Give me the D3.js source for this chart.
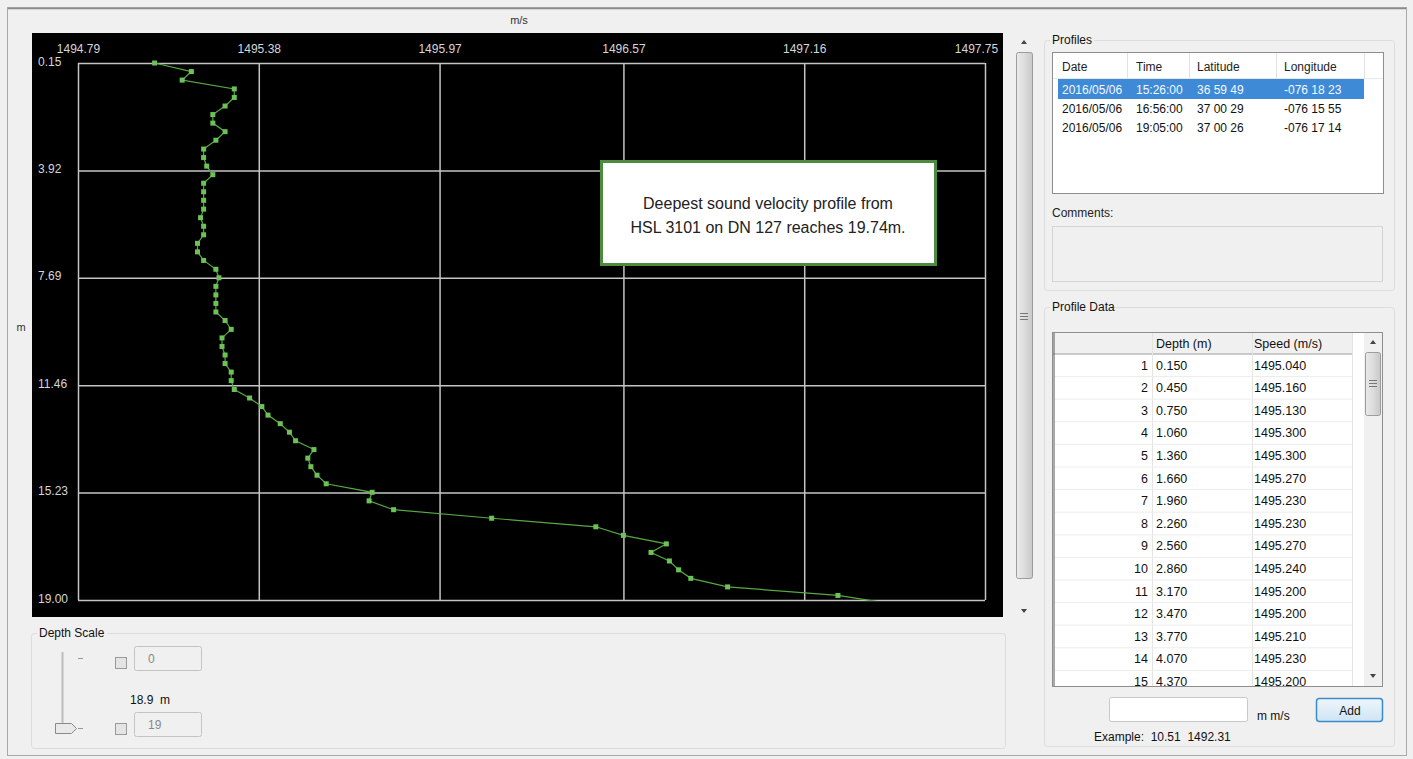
<!DOCTYPE html>
<html>
<head>
<meta charset="utf-8">
<script src="https://cdn.jsdelivr.net/npm/d3@7"></script>
<style>
  html, body { margin: 0; padding: 0; background: #f0f0f0; }
  svg { display: block; }
  text { font-family: "Liberation Sans", Arial, sans-serif; white-space: pre; }
</style>
</head>
<body>
<svg id="app" width="1413" height="759"></svg>
<script>
// ---- Sound velocity profile: depth (m) and speed (m/s) per sample ----
const depths = [
  0.15, 0.45, 0.75, 1.06, 1.36, 1.66, 1.96, 2.26, 2.56, 2.86,
  3.17, 3.47, 3.77, 4.07, 4.37, 4.67, 4.97, 5.28, 5.58, 5.88,
  6.18, 6.48, 6.78, 7.08, 7.39, 7.69, 7.99, 8.29, 8.59, 8.89,
  9.19, 9.50, 9.80, 10.10, 10.40, 10.70, 11.00, 11.30, 11.61, 11.91,
  12.21, 12.51, 12.81, 13.11, 13.41, 13.72, 14.02, 14.32, 14.62, 14.92,
  15.22, 15.52, 15.83, 16.13, 16.43, 16.73, 17.03, 17.33, 17.63, 17.94,
  18.24, 18.54, 18.84, 19.14
];
const speeds = [
  1495.04, 1495.16, 1495.13, 1495.30, 1495.30, 1495.27, 1495.23, 1495.23, 1495.27, 1495.24,
  1495.20, 1495.20, 1495.21, 1495.23, 1495.20, 1495.20, 1495.20, 1495.20, 1495.19, 1495.20,
  1495.20, 1495.18, 1495.18, 1495.20, 1495.24, 1495.25, 1495.24, 1495.24, 1495.24, 1495.24,
  1495.27, 1495.29, 1495.26, 1495.26, 1495.27, 1495.27, 1495.29, 1495.29, 1495.30, 1495.35,
  1495.39, 1495.41, 1495.45, 1495.48, 1495.50, 1495.56, 1495.54, 1495.55, 1495.57, 1495.60,
  1495.75, 1495.74, 1495.82, 1496.14, 1496.48, 1496.57, 1496.71, 1496.66, 1496.72, 1496.75,
  1496.79, 1496.91, 1497.27, 1497.45
];
const speedTicks = [1494.79, 1495.38, 1495.97, 1496.57, 1497.16, 1497.75];
const depthTicks = [0.15, 3.92, 7.69, 11.46, 15.23, 19.00];

// ---- Profiles list ----
const profileHeaders = ["Date", "Time", "Latitude", "Longitude"];
const profileDates = ["2016/05/06", "2016/05/06", "2016/05/06"];
const profileTimes = ["15:26:00", "16:56:00", "19:05:00"];
const profileLats = ["36 59 49", "37 00 29", "37 00 26"];
const profileLons = ["-076 18 23", "-076 15 55", "-076 17 14"];

const annotationLines = ["Deepest sound velocity profile from", "HSL 3101 on DN 127 reaches 19.74m."];
const tableRowsShown = 15;

const svg = d3.select("#app");

// window frame
svg.append("rect").attr("x", 7.5).attr("y", 7.5).attr("width", 1399).attr("height", 748)
  .attr("fill", "#f0f0f0").attr("stroke", "#a9a9a9");
svg.append("line").attr("x1", 8).attr("x2", 1406).attr("y1", 8.5).attr("y2", 8.5)
  .attr("stroke", "#8a8a8a").attr("stroke-width", 1.5);

// ---------------- Chart ----------------
const plot = { left: 78, right: 985, top: 63, bottom: 600 };
svg.append("rect").attr("x", 32).attr("y", 33).attr("width", 971).attr("height", 584).attr("fill", "#000");

svg.append("text").attr("x", 519).attr("y", 24).attr("text-anchor", "middle")
  .attr("font-size", 11).attr("fill", "#333").text("m/s");
svg.append("text").attr("x", 21).attr("y", 331).attr("text-anchor", "middle")
  .attr("font-size", 11).attr("fill", "#333").text("m");

const x = d3.scaleLinear().domain([speedTicks[0], speedTicks[speedTicks.length - 1]]).range([plot.left, plot.right]);
const y = d3.scaleLinear().domain([depthTicks[0], depthTicks[depthTicks.length - 1]]).range([plot.top, plot.bottom]);

const xAxis = svg.append("g").attr("transform", `translate(0,${plot.top})`)
  .call(d3.axisTop(x).tickValues(speedTicks).tickFormat(d3.format(".2f"))
    .tickSize(-(plot.bottom - plot.top)).tickPadding(10));
const yAxis = svg.append("g").attr("transform", `translate(${plot.left},0)`)
  .call(d3.axisLeft(y).tickValues(depthTicks).tickFormat(d3.format(".2f"))
    .tickSize(-(plot.right - plot.left)).tickPadding(40));

[xAxis, yAxis].forEach(g => {
  g.select(".domain").remove();
  g.selectAll(".tick line").attr("stroke", "#c4c4c4").attr("stroke-width", 1.5);
  g.selectAll(".tick text").attr("fill", "#d6d6d6").attr("font-size", 12)
    .attr("font-family", "'Liberation Sans', Arial, sans-serif");
});
yAxis.selectAll(".tick text").attr("text-anchor", "start").attr("dy", "0.18em");
xAxis.selectAll(".tick text").filter((d, i) => i === speedTicks.length - 1).attr("dx", -9);

// profile line and sample markers
svg.append("clipPath").attr("id", "plotClip").append("rect")
  .attr("x", plot.left - 4).attr("y", plot.top - 4)
  .attr("width", plot.right - plot.left + 8).attr("height", plot.bottom - plot.top + 5);

const samples = depths.map((d, i) => ({ depth: d, speed: speeds[i] }));
const series = svg.append("g").attr("clip-path", "url(#plotClip)");
series.append("path").datum(samples)
  .attr("fill", "none").attr("stroke", "#57a845").attr("stroke-width", 1.2)
  .attr("d", d3.line().x(d => x(d.speed)).y(d => y(d.depth)));
series.selectAll("rect.pt").data(samples).join("rect").attr("class", "pt")
  .attr("x", d => x(d.speed) - 2.5).attr("y", d => y(d.depth) - 2.5)
  .attr("width", 5).attr("height", 5).attr("fill", "#6cc256");

// annotation
svg.append("rect").attr("x", 601.5).attr("y", 161.5).attr("width", 334).attr("height", 103)
  .attr("fill", "#fff").attr("stroke", "#4c8c3c").attr("stroke-width", 3);
annotationLines.forEach((t, i) => {
  svg.append("text").attr("x", 768).attr("y", 209 + i * 24).attr("text-anchor", "middle")
    .attr("font-size", 16).attr("fill", "#222").text(t);
});

// chart vertical scrollbar
const sb = svg.append("g");
sb.append("rect").attr("x", 1015).attr("y", 33).attr("width", 18).attr("height", 584).attr("fill", "#f0f0f0");
sb.append("path").attr("d", "M1021,44 L1027,44 L1024,40 Z").attr("fill", "#444");
sb.append("path").attr("d", "M1021,609 L1027,609 L1024,613 Z").attr("fill", "#444");
const thumbGrad = svg.append("defs").append("linearGradient").attr("id", "thumbGrad");
thumbGrad.append("stop").attr("offset", "0%").attr("stop-color", "#eaeaea");
thumbGrad.append("stop").attr("offset", "50%").attr("stop-color", "#dcdcdc");
thumbGrad.append("stop").attr("offset", "100%").attr("stop-color", "#c8c8c8");
sb.append("rect").attr("x", 1016.5).attr("y", 52.5).attr("width", 16).attr("height", 526).attr("rx", 2)
  .attr("fill", "url(#thumbGrad)").attr("stroke", "#9c9c9c");
[-3, 0, 3].forEach(o => sb.append("line").attr("x1", 1020).attr("x2", 1028)
  .attr("y1", 316.5 + o).attr("y2", 316.5 + o).attr("stroke", "#777"));

// ---------------- Depth scale group ----------------
function groupBox(x0, y0, x1, y1, label, labelW) {
  const g = svg.append("g");
  g.append("rect").attr("x", x0 + 0.5).attr("y", y0 + 0.5).attr("width", x1 - x0).attr("height", y1 - y0)
    .attr("rx", 3).attr("fill", "none").attr("stroke", "#dcdcdc");
  g.append("rect").attr("x", x0 + 6).attr("y", y0 - 6).attr("width", labelW).attr("height", 12).attr("fill", "#f0f0f0");
  g.append("text").attr("x", x0 + 8).attr("y", y0 + 4).attr("font-size", 12).attr("fill", "#111").text(label);
  return g;
}
groupBox(31, 633, 1005, 748, "Depth Scale", 70);
svg.append("line").attr("x1", 62.5).attr("x2", 62.5).attr("y1", 652).attr("y2", 726).attr("stroke", "#bdbdbd").attr("stroke-width", 2);
[658, 728].forEach(yy => svg.append("line").attr("x1", 78).attr("x2", 83).attr("y1", yy + 0.5).attr("y2", yy + 0.5).attr("stroke", "#999"));
svg.append("path").attr("d", "M55.5,723.5 L71.5,723.5 L76.5,728.5 L71.5,733.5 L55.5,733.5 Z")
  .attr("fill", "#e9e9e9").attr("stroke", "#8a8a8a");
[[657, "0"], [723, "19"]].forEach(([yy, val]) => {
  svg.append("rect").attr("x", 115.5).attr("y", yy + 0.5).attr("width", 11).attr("height", 11)
    .attr("fill", "#e4e4e4").attr("stroke", "#9a9a9a");
  svg.append("rect").attr("x", 134.5).attr("y", yy - 10.5).attr("width", 67).attr("height", 24).attr("rx", 2)
    .attr("fill", "#f0f0f0").attr("stroke", "#c4c4c4");
  svg.append("text").attr("x", 148).attr("y", yy + 6).attr("font-size", 12).attr("fill", "#888").text(val);
});
svg.append("text").attr("x", 130).attr("y", 704).attr("font-size", 12).attr("fill", "#111").text("18.9  m");

// ---------------- Profiles group ----------------
groupBox(1044, 40, 1394, 290, "Profiles", 44);
const list = svg.append("g");
list.append("rect").attr("x", 1052.5).attr("y", 52.5).attr("width", 331).attr("height", 141)
  .attr("fill", "#fff").attr("stroke", "#8e8e8e");
const colX = [1062, 1136, 1197, 1284];
const colSep = [1127, 1189, 1276, 1364];
colSep.forEach(cx => list.append("line").attr("x1", cx + 0.5).attr("x2", cx + 0.5)
  .attr("y1", 53).attr("y2", 78).attr("stroke", "#e2e2e2"));
list.append("line").attr("x1", 1053).attr("x2", 1383).attr("y1", 78.5).attr("y2", 78.5).attr("stroke", "#e8e8e8");
profileHeaders.forEach((h, i) => list.append("text").attr("x", colX[i]).attr("y", 71)
  .attr("font-size", 12).attr("fill", "#222").text(h));
list.append("rect").attr("x", 1058).attr("y", 79).attr("width", 306).attr("height", 20).attr("fill", "#3f8ad6");
profileDates.forEach((d, r) => {
  const row = [d, profileTimes[r], profileLats[r], profileLons[r]];
  row.forEach((t, i) => list.append("text").attr("x", colX[i]).attr("y", 94 + r * 19)
    .attr("font-size", 12).attr("fill", r === 0 ? "#f4f8ff" : "#111").text(t));
});
svg.append("text").attr("x", 1052).attr("y", 217).attr("font-size", 12).attr("fill", "#222").text("Comments:");
svg.append("rect").attr("x", 1052.5).attr("y", 226.5).attr("width", 330).attr("height", 55)
  .attr("fill", "#f0f0f0").attr("stroke", "#d4d4d4");

// ---------------- Profile data group ----------------
groupBox(1044, 307, 1394, 746, "Profile Data", 64);
const tbl = svg.append("g");
const tTop = 332, rowH = 22.6, hdrH = 21.5, tBottom = 686;
svg.append("clipPath").attr("id", "tblClip").append("rect")
  .attr("x", 1053).attr("y", tTop).attr("width", 312).attr("height", tBottom - tTop);
tbl.append("rect").attr("x", 1052.5).attr("y", tTop + 0.5).attr("width", 330).attr("height", tBottom - tTop)
  .attr("fill", "#fff").attr("stroke", "#8e8e8e");
const cells = tbl.append("g").attr("clip-path", "url(#tblClip)");
cells.append("rect").attr("x", 1053).attr("y", tTop + 1).attr("width", 299).attr("height", hdrH)
  .attr("fill", "#f0f0f0");
cells.append("line").attr("x1", 1053).attr("x2", 1352).attr("y1", tTop + hdrH + 0.5).attr("y2", tTop + hdrH + 0.5)
  .attr("stroke", "#a0a0a0");
[1152, 1252].forEach(cx => cells.append("line").attr("x1", cx + 0.5).attr("x2", cx + 0.5)
  .attr("y1", tTop + 1).attr("y2", tBottom).attr("stroke", "#e4e4e4"));
cells.append("line").attr("x1", 1352.5).attr("x2", 1352.5).attr("y1", tTop + 1).attr("y2", tBottom).attr("stroke", "#e4e4e4");
cells.append("line").attr("x1", 1054).attr("x2", 1054).attr("y1", tTop + 1).attr("y2", tBottom).attr("stroke", "#555");
const tf = { font: "'DejaVu Sans', Verdana, sans-serif", size: 12.5 };
cells.append("text").attr("x", 1156).attr("y", tTop + 15.5).attr("font-family", tf.font).attr("font-size", tf.size).attr("fill", "#111").text("Depth (m)");
cells.append("text").attr("x", 1254).attr("y", tTop + 15.5).attr("font-family", tf.font).attr("font-size", tf.size).attr("fill", "#111").text("Speed (m/s)");
const fmt3 = d3.format(".3f");
for (let i = 0; i < tableRowsShown; i++) {
  const ry = tTop + hdrH + i * rowH;
  cells.append("line").attr("x1", 1055).attr("x2", 1352).attr("y1", ry + rowH + 0.5).attr("y2", ry + rowH + 0.5).attr("stroke", "#ececec");
  const ty = ry + 16;
  cells.append("text").attr("x", 1148).attr("y", ty).attr("text-anchor", "end").attr("font-family", tf.font)
    .attr("font-size", tf.size).attr("fill", "#111").text(i + 1);
  cells.append("text").attr("x", 1156).attr("y", ty).attr("font-family", tf.font)
    .attr("font-size", tf.size).attr("fill", "#111").text(fmt3(depths[i]));
  cells.append("text").attr("x", 1254).attr("y", ty).attr("font-family", tf.font)
    .attr("font-size", tf.size).attr("fill", "#111").text(fmt3(speeds[i]));
}
// table scrollbar
tbl.append("rect").attr("x", 1364).attr("y", tTop + 1).attr("width", 18).attr("height", tBottom - tTop - 1).attr("fill", "#f0f0f0");
tbl.append("path").attr("d", "M1370,344 L1376,344 L1373,340 Z").attr("fill", "#444");
tbl.append("path").attr("d", "M1370,674 L1376,674 L1373,678 Z").attr("fill", "#444");
tbl.append("rect").attr("x", 1365.5).attr("y", 352.5).attr("width", 15).attr("height", 63).attr("rx", 2)
  .attr("fill", "url(#thumbGrad)").attr("stroke", "#9c9c9c");
[-3, 0, 3].forEach(o => tbl.append("line").attr("x1", 1369).attr("x2", 1377)
  .attr("y1", 383.5 + o).attr("y2", 383.5 + o).attr("stroke", "#777"));

// entry row
svg.append("rect").attr("x", 1109.5).attr("y", 697.5).attr("width", 138).attr("height", 24).attr("rx", 2)
  .attr("fill", "#fff").attr("stroke", "#c8c8c8");
svg.append("text").attr("x", 1257).attr("y", 720).attr("font-size", 12).attr("fill", "#111").text("m m/s");
const btnGrad = svg.select("defs").append("linearGradient").attr("id", "btnGrad").attr("x2", 0).attr("y2", 1);
btnGrad.append("stop").attr("offset", "0%").attr("stop-color", "#eef6fc");
btnGrad.append("stop").attr("offset", "100%").attr("stop-color", "#cfe4f4");
svg.append("rect").attr("x", 1316.5).attr("y", 698.5).attr("width", 66).attr("height", 23).attr("rx", 3)
  .attr("fill", "url(#btnGrad)").attr("stroke", "#3c8bc8").attr("stroke-width", 1.5);
svg.append("text").attr("x", 1350).attr("y", 715).attr("text-anchor", "middle").attr("font-size", 12).attr("fill", "#111").text("Add");
svg.append("text").attr("x", 1094).attr("y", 741).attr("font-size", 12).attr("fill", "#111").text("Example:  10.51  1492.31");
</script>
</body>
</html>
